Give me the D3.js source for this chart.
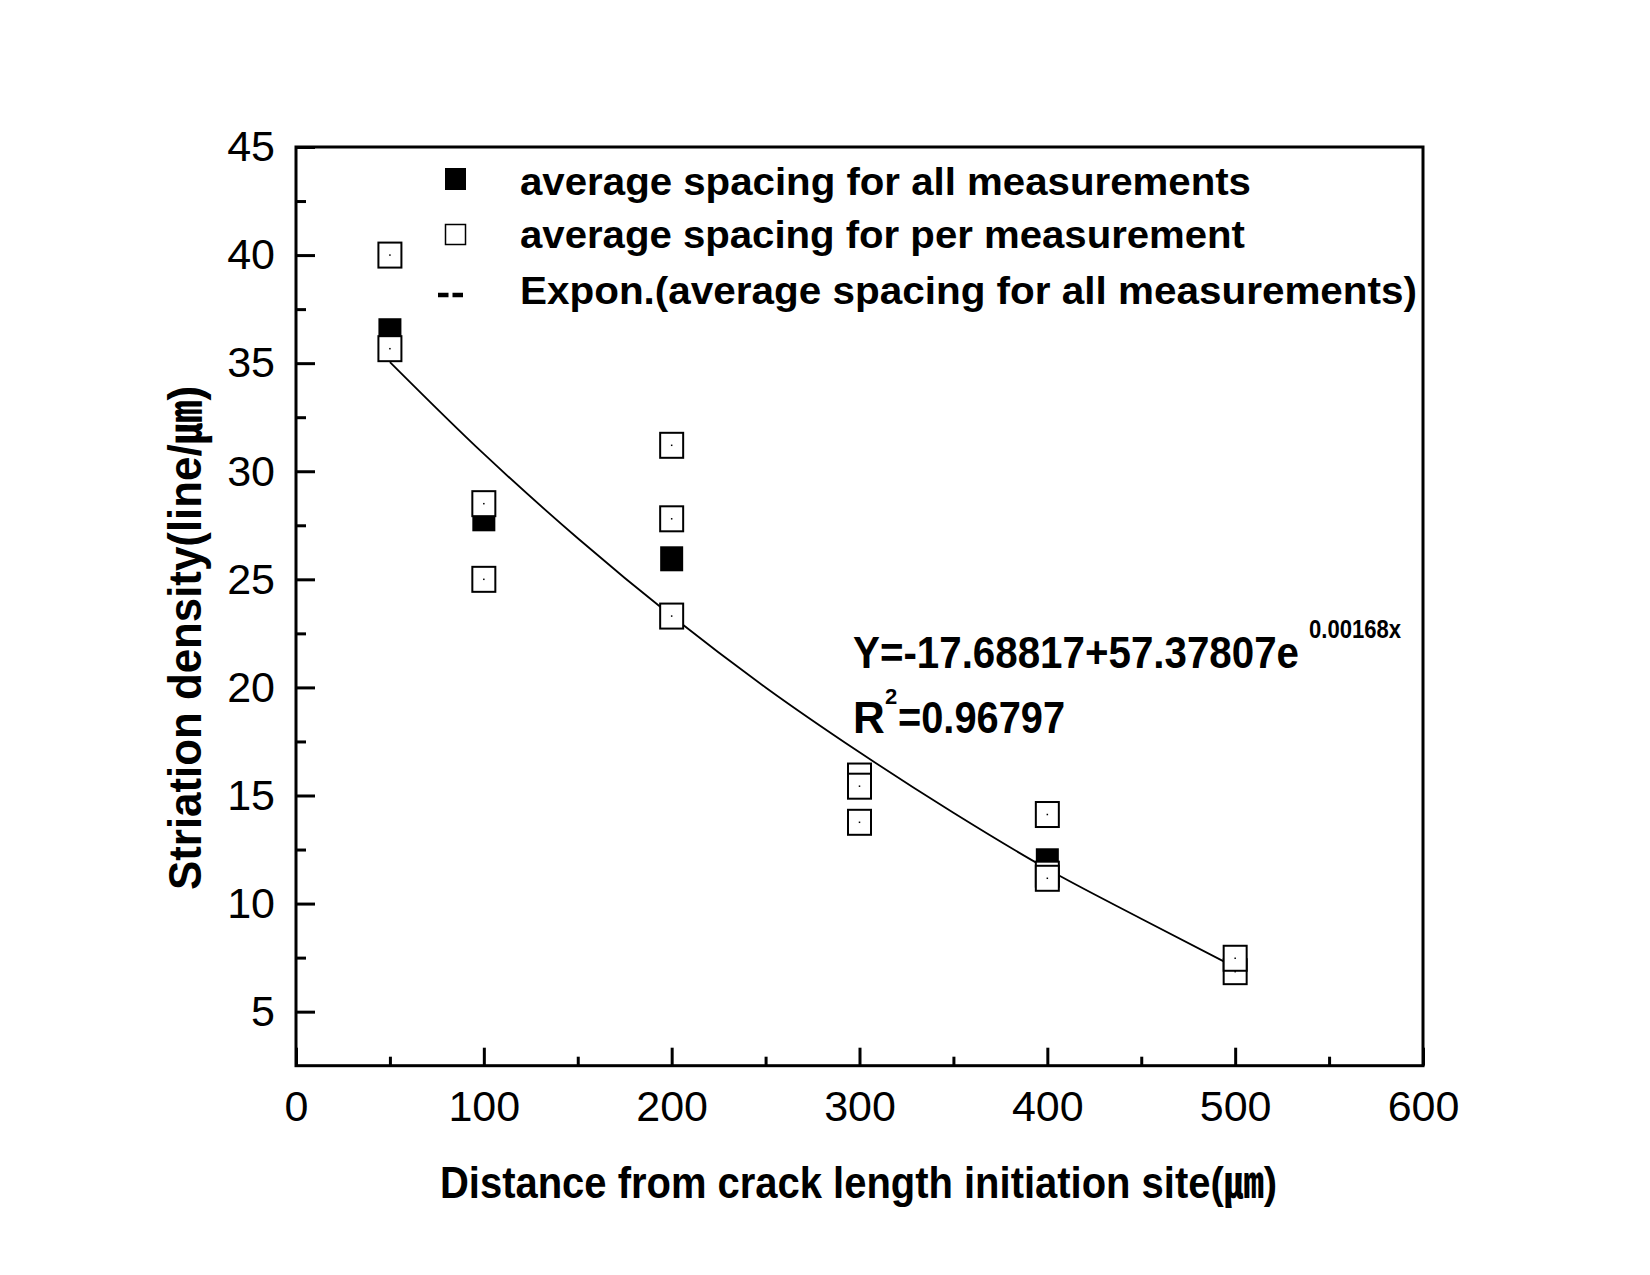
<!DOCTYPE html>
<html><head><meta charset="utf-8">
<script src="https://cdn.jsdelivr.net/npm/d3@7"></script>
<style>body{margin:0;background:#fff}</style>
</head><body>
<svg id="chart" width="1650" height="1275" style="background:#fff"></svg>
<script>
// ---- data ----
const avgX = [50, 100, 200, 300, 400, 500];
const avgY = [36.5, 27.8, 25.95, 15.6, 11.98, 7.1];          // filled squares
const perX = [50, 50, 100, 100, 200, 200, 200, 300, 300, 300, 400, 400, 400, 500, 500];
const perY = [40.0, 35.67, 28.5, 25.0, 31.2, 27.8, 23.3, 15.9, 15.43, 13.76, 14.12, 11.36, 11.17, 6.85, 7.47]; // open squares
const fitX = [50, 100, 150, 200, 250, 300, 350, 400, 450, 500];
const fitY = [35.05, 30.8, 26.9, 23.3, 20.0, 17.0, 14.2, 11.6, 9.3, 7.05];
const xTicks = [0, 100, 200, 300, 400, 500, 600];
const xMinor = [50, 150, 250, 350, 450, 550];
const yTicks = [5, 10, 15, 20, 25, 30, 35, 40, 45];
const yMinor = [7.5, 12.5, 17.5, 22.5, 27.5, 32.5, 37.5, 42.5];
const legendLabels = ["average spacing for all measurements",
                      "average spacing for per measurement",
                      "Expon.(average spacing for all measurements)"];
const xTitle = "Distance from crack length initiation site(\u339B)";
const yTitle = "Striation density(line/\u339B)";
const eqMain = "Y=-17.68817+57.37807e";
const eqExp = "0.00168x";
const r2Value = "=0.96797";

const FONT = "'Liberation Sans', Arial, 'Noto Sans CJK KR', sans-serif";
const svg = d3.select("#chart");
svg.append("rect").attr("width",1650).attr("height",1275).attr("fill","#fff");

const x = d3.scaleLinear().domain([0, 600]).range([296, 1423]);
const y = d3.scaleLinear().domain([2.5, 45]).range([1065.7, 147]);

// axes
const gx = svg.append("g").attr("transform", `translate(0,${y(2.5)})`)
  .call(d3.axisBottom(x).tickValues(xTicks).tickSizeInner(-18).tickSizeOuter(0).tickPadding(25));
const gxm = svg.append("g").attr("transform", `translate(0,${y(2.5)})`)
  .call(d3.axisBottom(x).tickValues(xMinor).tickSizeInner(-9).tickSizeOuter(0).tickFormat(""));
const gy = svg.append("g").attr("transform", `translate(${x(0)},0)`)
  .call(d3.axisLeft(y).tickValues(yTicks).tickSizeInner(-19).tickSizeOuter(0).tickPadding(21));
const gym = svg.append("g").attr("transform", `translate(${x(0)},0)`)
  .call(d3.axisLeft(y).tickValues(yMinor).tickSizeInner(-10).tickSizeOuter(0).tickFormat(""));
[gx, gxm, gy, gym].forEach(g => {
  g.select(".domain").remove();
  g.selectAll(".tick line").attr("stroke", "#000").attr("stroke-width", 3);
  g.selectAll(".tick text").attr("font-family", FONT).attr("font-size", 43).attr("fill", "#000");
});

// frame
svg.append("rect").attr("x", x(0)).attr("y", y(45)).attr("width", x(600) - x(0)).attr("height", y(2.5) - y(45))
  .attr("fill", "none").attr("stroke", "#000").attr("stroke-width", 3);

// fit curve
const line = d3.line().x(d => x(d[0])).y(d => y(d[1])).curve(d3.curveMonotoneX);
svg.append("path").datum(fitX.map((v, i) => [v, fitY[i]]))
  .attr("d", line).attr("fill", "none").attr("stroke", "#000").attr("stroke-width", 1.8);

// filled squares
const MW = 23, MH = 25;
svg.append("g").selectAll("rect").data(avgX.map((v, i) => [v, avgY[i]])).join("rect")
  .attr("x", d => x(d[0]) - MW / 2).attr("y", d => y(d[1]) - MH / 2)
  .attr("width", MW).attr("height", MH).attr("fill", "#000");

// open squares
const og = svg.append("g").selectAll("g").data(perX.map((v, i) => [v, perY[i]])).join("g");
og.append("rect")
  .attr("x", d => x(d[0]) - MW / 2).attr("y", d => y(d[1]) - MH / 2)
  .attr("width", MW).attr("height", MH).attr("fill", "#fff").attr("stroke", "#000").attr("stroke-width", 2);
og.append("rect")
  .attr("x", d => x(d[0]) - 0.75).attr("y", d => y(d[1]) - 0.75)
  .attr("width", 1.5).attr("height", 1.5).attr("fill", "#000");

// legend
svg.append("rect").attr("x", 445).attr("y", 168).attr("width", 21).attr("height", 22).attr("fill", "#000");
svg.append("rect").attr("x", 445.5).attr("y", 224.5).attr("width", 20).attr("height", 20)
  .attr("fill", "#fff").attr("stroke", "#000").attr("stroke-width", 1.5);
svg.append("line").attr("x1", 438).attr("x2", 463).attr("y1", 295).attr("y2", 295)
  .attr("stroke", "#000").attr("stroke-width", 4.5).attr("stroke-dasharray", "10.5,4");
const legBase = [195, 248, 304], legLen = [731, 725, 897];
legendLabels.forEach((t, i) => {
  svg.append("text").attr("x", 520).attr("y", legBase[i]).text(t)
    .attr("font-family", FONT).attr("font-weight", "bold").attr("font-size", 38)
    .attr("textLength", legLen[i]).attr("lengthAdjust", "spacingAndGlyphs");
});

// equation
const bold = s => s.attr("font-family", FONT).attr("font-weight", "bold").attr("fill", "#000");
bold(svg.append("text").attr("x", 853).attr("y", 668).attr("font-size", 44).text(eqMain)
  .attr("textLength", 446).attr("lengthAdjust", "spacingAndGlyphs"));
bold(svg.append("text").attr("x", 1309).attr("y", 638).attr("font-size", 26).text(eqExp)
  .attr("textLength", 92).attr("lengthAdjust", "spacingAndGlyphs"));
bold(svg.append("text").attr("x", 853).attr("y", 733).attr("font-size", 44).text("R"));
bold(svg.append("text").attr("x", 885).attr("y", 704).attr("font-size", 22).text("2"));
bold(svg.append("text").attr("x", 898).attr("y", 733).attr("font-size", 44).text(r2Value)
  .attr("textLength", 167).attr("lengthAdjust", "spacingAndGlyphs"));

// axis titles
bold(svg.append("text").attr("x", 858.5).attr("y", 1198).attr("text-anchor", "middle")
  .attr("font-size", 44).text(xTitle).attr("textLength", 837).attr("lengthAdjust", "spacingAndGlyphs"));
bold(svg.append("text").attr("transform", "translate(201,638) rotate(-90)").attr("text-anchor", "middle")
  .attr("font-size", 46).text(yTitle).attr("textLength", 504).attr("lengthAdjust", "spacingAndGlyphs"));
</script>
</body></html>
